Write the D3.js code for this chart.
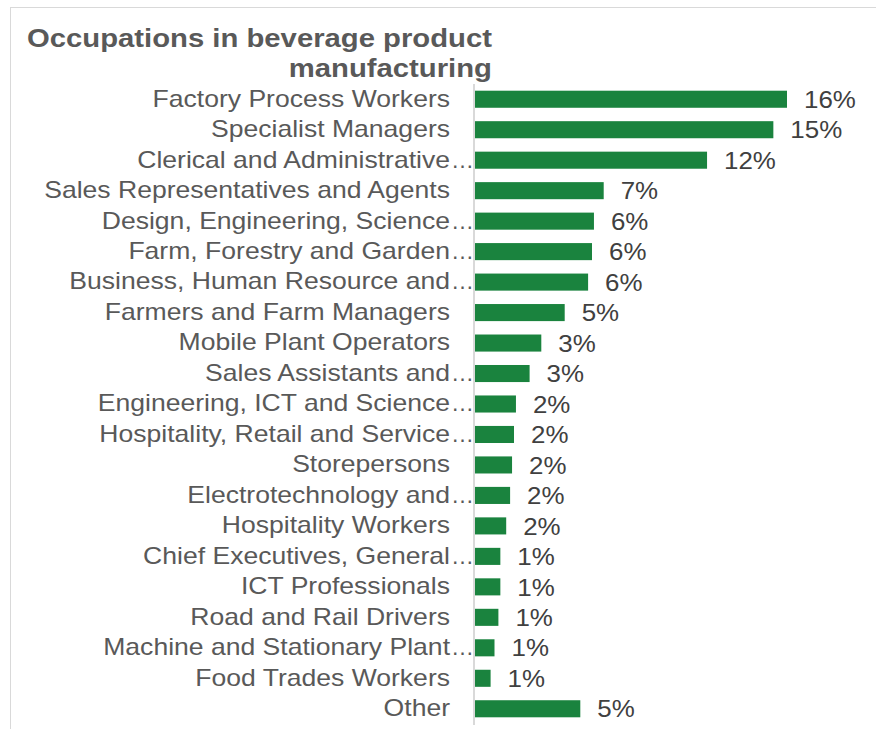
<!DOCTYPE html>
<html>
<head>
<meta charset="utf-8">
<script src="https://cdn.jsdelivr.net/npm/d3@7/dist/d3.min.js"></script>
<style>
  html, body { margin: 0; padding: 0; background: #fff; }
  svg { display: block; }
  text { font-family: "Liberation Sans", Arial, sans-serif; }
</style>
</head>
<body>
<svg id="chart" width="876" height="729"></svg>
<script>
// Share of employment by occupation, beverage product manufacturing
const categories = [
  "Factory Process Workers",
  "Specialist Managers",
  "Clerical and Administrative…",
  "Sales Representatives and Agents",
  "Design, Engineering, Science…",
  "Farm, Forestry and Garden…",
  "Business, Human Resource and…",
  "Farmers and Farm Managers",
  "Mobile Plant Operators",
  "Sales Assistants and…",
  "Engineering, ICT and Science…",
  "Hospitality, Retail and Service…",
  "Storepersons",
  "Electrotechnology and…",
  "Hospitality Workers",
  "Chief Executives, General…",
  "ICT Professionals",
  "Road and Rail Drivers",
  "Machine and Stationary Plant…",
  "Food Trades Workers",
  "Other"
];
const shares = [
  0.160, 0.153, 0.119, 0.066, 0.061, 0.060, 0.058, 0.046, 0.034, 0.028,
  0.021, 0.020, 0.019, 0.018, 0.016, 0.013, 0.013, 0.012, 0.010, 0.008,
  0.054
];
const titleLines = ["Occupations in beverage product", "manufacturing"];

const data = categories.map((c, i) => ({ name: c, value: shares[i] }));

const svg = d3.select("#chart");
const W = 876, H = 729;

// the typeface is set slightly wide
const wideTitle = 1.148, wideLabel = 1.155, wideValue = 1.08;

// outer frame
svg.append("rect")
  .attr("x", 10.5).attr("y", 7.5)
  .attr("width", W + 10).attr("height", H + 10)
  .attr("fill", "none").attr("stroke", "#d9d9d9").attr("stroke-width", 1);

// title, right-aligned over two lines
svg.append("g").selectAll("text")
  .data(titleLines)
  .join("text")
  .attr("transform", (d, i) => `translate(492,${47 + i * 30}) scale(${wideTitle},1)`)
  .attr("text-anchor", "end")
  .attr("font-size", 25.5)
  .attr("font-weight", "bold")
  .attr("fill", "#595959")
  .text(d => d);

const x0 = 475;
const x = d3.scaleLinear().domain([0, 0.16]).range([x0, 787]);
const y = d3.scaleBand()
  .domain(categories)
  .range([84, 724])
  .paddingInner(0.44)
  .paddingOuter(0.22);

// bars
svg.append("g").selectAll("rect")
  .data(data)
  .join("rect")
  .attr("x", x(0))
  .attr("y", d => y(d.name))
  .attr("width", d => x(d.value) - x(0))
  .attr("height", y.bandwidth())
  .attr("fill", "#1a833e");

// value labels
const pct = d3.format(".0%");
svg.append("g").selectAll("text")
  .data(data)
  .join("text")
  .attr("transform", d =>
    `translate(${x(d.value) + 17},${y(d.name) + y.bandwidth() / 2}) scale(${wideValue},1)`)
  .attr("dy", "0.36em")
  .attr("font-size", 24)
  .attr("fill", "#404040")
  .text(d => pct(d.value));

// category axis
const pad = 24;
const axis = d3.axisLeft(y)
  .tickSize(0)
  .tickPadding(pad)
  .tickFormat(d => d.replace(/…$/, ""));

const gAxis = svg.append("g")
  .attr("transform", `translate(${x0 - 1},0)`)
  .call(axis);

gAxis.select(".domain").remove();
gAxis.append("line")
  .attr("x1", 0).attr("x2", 0)
  .attr("y1", 84).attr("y2", 725)
  .attr("stroke", "#d9d9d9").attr("stroke-width", 2);

gAxis.selectAll(".tick text")
  .attr("font-family", "\"Liberation Sans\", Arial, sans-serif")
  .attr("font-size", 23)
  .attr("fill", "#595959")
  .attr("x", -pad / wideLabel)
  .attr("transform", `scale(${wideLabel},1)`);

// trailing ellipsis on shortened names
gAxis.selectAll(".tick")
  .filter(d => d.endsWith("…"))
  .append("text")
  .attr("x", -pad + 1)
  .attr("dy", "0.32em")
  .attr("font-family", "\"Liberation Sans\", Arial, sans-serif")
  .attr("font-size", 23)
  .attr("fill", "#595959")
  .attr("text-anchor", "start")
  .text("…");
</script>
</body>
</html>
